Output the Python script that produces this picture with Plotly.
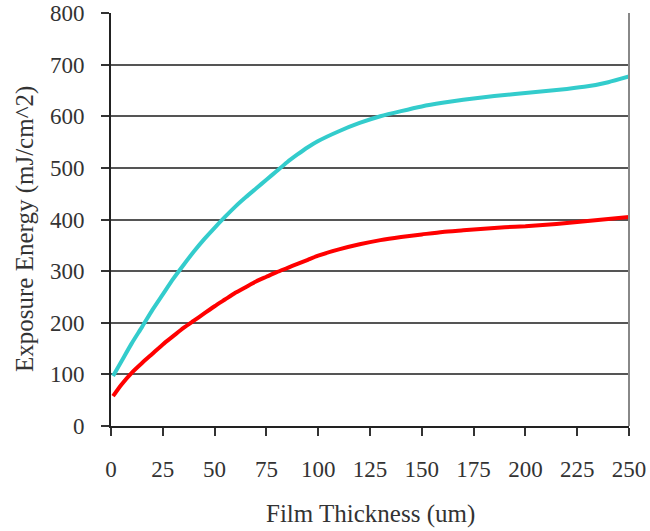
import plotly.graph_objects as go

# Film thickness (um)
thickness = [1, 5, 10, 15, 20, 25, 30, 35, 40, 45, 50, 55, 60, 65, 70, 75, 80, 85, 90, 95,
             100, 110, 120, 130, 140, 150, 160, 170, 180, 190, 200, 210, 220, 230, 240, 250]

# Exposure energy (mJ/cm^2) - upper (cyan) curve
energy_upper = [97, 125, 160, 192, 225, 255, 285, 312, 338, 362, 384, 405, 425, 443, 460, 477,
                494, 511, 526, 540, 552, 571, 587, 600, 610, 619, 626, 632, 637, 641, 645,
                649, 653, 658, 666, 677]

# Exposure energy (mJ/cm^2) - lower (red) curve
energy_lower = [58, 80, 103, 122, 140, 158, 174, 190, 204, 218, 232, 245, 258, 269, 280, 289,
                298, 306, 314, 322, 330, 342, 352, 360, 366, 371, 376, 379, 382, 385, 387,
                390, 393, 397, 401, 405]

x_ticks = [0, 25, 50, 75, 100, 125, 150, 175, 200, 225, 250]
y_ticks = [0, 100, 200, 300, 400, 500, 600, 700, 800]

FONT = "Liberation Serif"
TXT = "#333333"

fig = go.Figure()
fig.add_trace(go.Scatter(x=thickness, y=energy_upper, mode="lines",
                         line=dict(color="#33CCCC", width=4, shape="spline", smoothing=0.6),
                         showlegend=False))
fig.add_trace(go.Scatter(x=thickness, y=energy_lower, mode="lines",
                         line=dict(color="#FF0000", width=4, shape="spline", smoothing=0.6),
                         showlegend=False))

fig.update_layout(
    width=650, height=531,
    margin=dict(l=111, r=21, t=13, b=105),
    paper_bgcolor="white", plot_bgcolor="white",
    font=dict(family=FONT, color=TXT),
    xaxis=dict(range=[0, 250], tickvals=x_ticks, ticks="outside", ticklen=8,
               tickwidth=2, tickcolor="#333", showgrid=False, zeroline=False,
               showline=True, linecolor="#222", linewidth=2, automargin=False,
               tickfont=dict(size=23, family=FONT, color=TXT), ticklabelstandoff=13),
    yaxis=dict(range=[0, 800], tickvals=y_ticks, ticks="outside", ticklen=8,
               tickwidth=2, tickcolor="#333", showgrid=True, gridcolor="#555",
               gridwidth=1.5, zeroline=False, automargin=False,
               showline=True, linecolor="#222", linewidth=2,
               tickfont=dict(size=23, family=FONT, color=TXT), ticklabelstandoff=12),
    shapes=[dict(type="line", xref="paper", yref="paper", x0=1, x1=1, y0=0, y1=1,
                 line=dict(color="#888", width=2))],
    annotations=[
        dict(text="Film Thickness (um)", xref="paper", yref="paper",
             x=0.5, y=(426 - 514) / 413, xanchor="center", yanchor="middle",
             showarrow=False, font=dict(size=25, family=FONT, color=TXT)),
        dict(text="Exposure Energy (mJ/cm^2)", xref="paper", yref="paper",
             x=(25 - 111) / 518, y=(426 - 229) / 413, xanchor="center", yanchor="middle",
             textangle=-90, showarrow=False, font=dict(size=25, family=FONT, color=TXT)),
    ],
)

fig.write_html("out.html")
